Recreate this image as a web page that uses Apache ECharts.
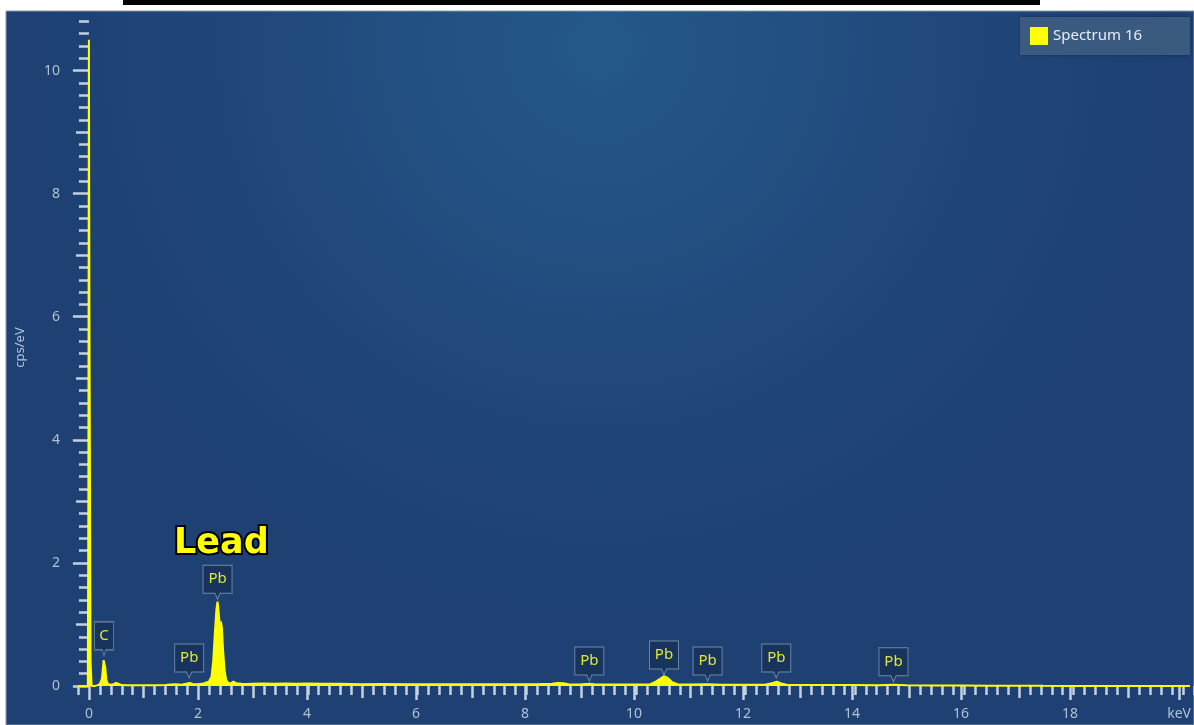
<!DOCTYPE html>
<html>
<head>
<meta charset="utf-8">
<script src="https://cdn.jsdelivr.net/npm/echarts@6/dist/echarts.min.js"></script>
<style>
html,body{margin:0;padding:0;background:#ffffff;}
#chart{width:1194px;height:725px;}
</style>
</head>
<body>
<div id="chart"></div>
<script>
// ---- data ----
const seriesName = 'Spectrum 16';
const energy = [-0.2,-0.02,-0.01,0.0,0.01,0.03,0.05,0.1,0.15,0.2,0.24,0.27,0.28,0.3,0.32,0.35,0.4,0.45,0.5,0.53,0.56,0.6,0.7,0.8,1.0,1.2,1.4,1.5,1.6,1.7,1.8,1.85,1.9,2.0,2.1,2.2,2.25,2.28,2.31,2.34,2.36,2.38,2.40,2.42,2.44,2.46,2.49,2.52,2.56,2.6,2.65,2.7,2.8,2.9,3.0,3.2,3.4,3.6,3.8,4.0,4.3,4.6,5.0,5.4,5.8,6.2,6.6,7.0,7.4,7.8,8.2,8.5,8.6,8.7,8.8,9.0,9.18,9.3,9.6,10.0,10.3,10.4,10.5,10.55,10.62,10.7,10.8,11.0,11.35,11.6,12.0,12.4,12.55,12.62,12.7,12.8,13.2,13.6,14.0,14.5,14.76,15.0,15.5,16.0,16.5,17.0,17.5,18.0,19.0,20.2];
const counts = [0,0,3.0,10.5,6.0,0.4,0,0,0.01,0.03,0.12,0.42,0.45,0.3,0.1,0.03,0.02,0.03,0.05,0.06,0.03,0.015,0.012,0.012,0.013,0.014,0.016,0.025,0.03,0.022,0.04,0.05,0.032,0.03,0.04,0.07,0.15,0.4,0.85,1.25,1.37,1.2,1.0,1.05,0.95,0.6,0.25,0.09,0.05,0.04,0.07,0.045,0.035,0.032,0.035,0.04,0.036,0.04,0.035,0.04,0.035,0.035,0.03,0.034,0.03,0.03,0.028,0.03,0.028,0.03,0.03,0.035,0.05,0.045,0.03,0.025,0.035,0.025,0.025,0.025,0.03,0.07,0.13,0.16,0.13,0.06,0.03,0.025,0.03,0.02,0.02,0.02,0.05,0.07,0.04,0.02,0.018,0.015,0.015,0.012,0.02,0.012,0.01,0.008,0.006,0.005,0.003,0.002,0.001,0];
// element markers: name, energy (keV), pointer tip height (cps/eV)
const markerNames  = ['C','Pb','Pb','Pb','Pb','Pb','Pb','Pb'];
const markerEnergy = [0.277,1.84,2.36,9.18,10.55,11.35,12.61,14.76];
const markerTip    = [0.49,0.13,1.41,0.08,0.18,0.08,0.13,0.07];
const annotationText = 'Lead';
const xMajorTicks = [0,2,4,6,8,10,12,14,16,18,20];
const xMidTicks = [1,3,5,7,9,11,13,15,17,19];
const yMajorTicks = [0,2,4,6,8,10];
const yMidTicks = [1,3,5,7,9];
const xUnit = 'keV';
const yUnit = 'cps/eV';

// ---- build ----
const xMinorTicks = [];
for (let i = -1; i <= 101; i++) xMinorTicks.push(Math.round(i * 0.2 * 10) / 10);
const yMinorTicks = [];
for (let i = 0; i <= 54; i++) yMinorTicks.push(Math.round(i * 0.2 * 10) / 10);

const spectrum = energy.map((e, i) => [e, counts[i]]);
const markers = markerNames.map((n, i) => ({
  name: n,
  coord: [markerEnergy[i], markerTip[i]],
  symbolSize: [n.length > 1 ? 29 : 19, 34]
}));

const tickColor = '#c3d1e1';
const labelColor = '#b2c2d4';
const font = 'Noto Sans';
const X_MIN = -0.2, X_MAX = 20.2, Y_MAX = 11;
const G = {left: 78, right: 0, top: 9, bottom: 39, containLabel: false};

function xAx(gi, ticks, len, labels) {
  return {
    type: 'value', min: X_MIN, max: X_MAX, gridIndex: gi, position: 'bottom',
    axisLine: {show: false},
    splitLine: {show: false},
    axisTick: {show: true, customValues: ticks, length: len, lineStyle: {color: tickColor, width: 2.5}},
    axisLabel: labels ? {
      show: true, customValues: labels, margin: 21, color: labelColor, fontSize: 14, fontFamily: font,
      formatter: v => (v === 20 ? xUnit : String(v))
    } : {show: false}
  };
}
function yAx(gi, ticks, len, labels, withName) {
  const a = {
    type: 'value', min: 0, max: Y_MAX, gridIndex: gi, position: 'left',
    axisLine: {show: false},
    splitLine: {show: false},
    axisTick: {show: true, customValues: ticks, length: len, lineStyle: {color: tickColor, width: 2.5}},
    axisLabel: labels ? {
      show: true, customValues: labels, margin: 18, color: labelColor, fontSize: 14, fontFamily: font
    } : {show: false}
  };
  if (withName) {
    a.name = yUnit; a.nameLocation = 'middle'; a.nameGap = 51; a.nameRotate = 90;
    a.nameTextStyle = {color: labelColor, fontSize: 13, fontFamily: font};
  }
  return a;
}

const chart = echarts.init(document.getElementById('chart'), null, {renderer: 'canvas'});
const option = {
  animation: false,
  backgroundColor: '#ffffff',
  graphic: [
    {type: 'rect', z: -10, silent: true, shape: {x: 6, y: 11, width: 1188, height: 714},
     style: {fill: new echarts.graphic.RadialGradient(0.5, 0.05, 0.8, [
       {offset: 0, color: '#24598a'}, {offset: 0.55, color: '#21497c'}, {offset: 1, color: '#1e4073'}]),
       stroke: '#8a98a8', lineWidth: 1}},
    {type: 'rect', z: -9, silent: true, shape: {x: 123, y: 0, width: 917, height: 5}, style: {fill: '#000000'}},
    {type: 'text', z: 20, left: 172, top: 524,
     style: {text: annotationText, fill: '#ffff00', stroke: '#000000', lineWidth: 4,
       font: 'bold 35px "DejaVu Sans"'}}
  ],
  legend: {
    show: true, left: 1020, top: 17, orient: 'horizontal',
    backgroundColor: '#3a5a80', padding: [10, 48, 10, 10],
    itemWidth: 18, itemHeight: 18, itemGap: 6, icon: 'rect',
    textStyle: {color: '#e6edf5', fontSize: 15, fontFamily: font},
    shadowColor: 'rgba(0,0,0,0.3)', shadowBlur: 4,
    data: [seriesName]
  },
  grid: [Object.assign({}, G), Object.assign({}, G), Object.assign({}, G)],
  xAxis: [xAx(0, xMajorTicks, 14, xMajorTicks), xAx(1, xMinorTicks, 9, null), xAx(2, xMidTicks, 12, null)],
  yAxis: [yAx(0, yMajorTicks, 16, yMajorTicks, true), yAx(1, yMinorTicks, 10, null, false), yAx(2, yMidTicks, 13, null, false)],
  series: [{
    name: seriesName, type: 'line', xAxisIndex: 0, yAxisIndex: 0,
    data: spectrum, showSymbol: false, symbol: 'none',
    itemStyle: {color: '#ffff00'},
    lineStyle: {color: '#ffff00', width: 2},
    areaStyle: {color: '#ffff00', opacity: 1},
    markPoint: {
      symbol: 'path://M0,0 L29,0 L29,28 L17,28 L14.5,34 L12,28 L0,28 Z',
      symbolOffset: [0, '-50%'],
      itemStyle: {color: '#18345c', borderColor: '#7189a6', borderWidth: 1},
      label: {show: true, position: 'inside', offset: [0, -3], formatter: p => p.name,
        color: '#dce83c', fontSize: 15, fontFamily: font},
      data: markers
    }
  }]
};
chart.setOption(option);
</script>
</body>
</html>
